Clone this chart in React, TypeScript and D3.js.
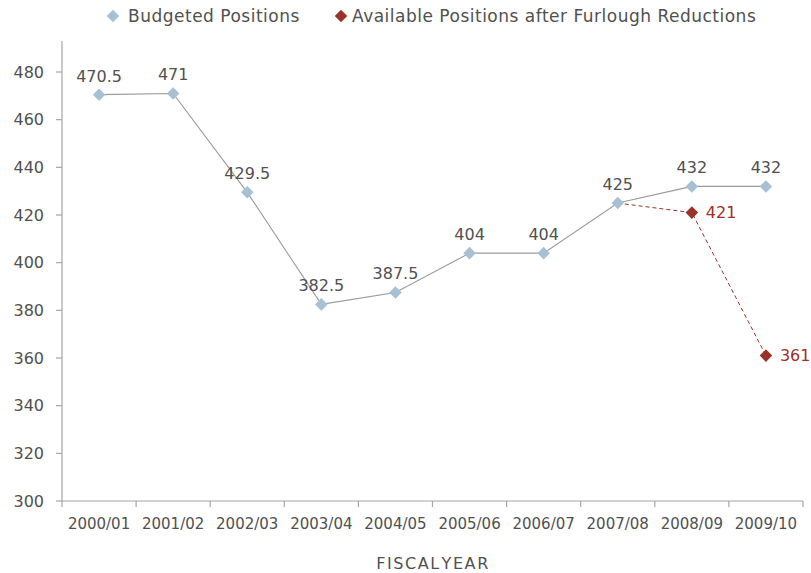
import React from "react";
import * as d3 from "d3";

const categories = ["2000/01","2001/02","2002/03","2003/04","2004/05","2005/06","2006/07","2007/08","2008/09","2009/10"];
const budgeted = [470.5, 471, 429.5, 382.5, 387.5, 404, 404, 425, 432, 432];
const available: (number | null)[] = [null, null, null, null, null, null, null, 425, 421, 361];
const availableMarkers = [false, false, false, false, false, false, false, false, true, true];
const yTicks = [300, 320, 340, 360, 380, 400, 420, 440, 460, 480];
const seriesNames = ["Budgeted Positions", "Available Positions after Furlough Reductions"];
const xTitle = "FISCAL YEAR";

const W = 811, H = 573;
const left = 62, right = 803, plotTop = 41, bottom = 501;
const blue = "#A8C0D3";
const red = "#993228";
const textCol = "#505050";
const axisCol = "#a6a6a6";
const font = "'DejaVu Sans', sans-serif";

export default function App() {
  const x = d3.scaleBand<string>().domain(categories).range([left, right]).padding(0);
  const y = d3.scaleLinear().domain([300, 480]).range([bottom, 72]);
  const cx = (c: string) => (x(c) as number) + x.bandwidth() / 2;
  const diamond = d3.symbol().type(d3.symbolDiamond2).size(100)();
  const line = d3.line<number>().x((_, i) => cx(categories[i])).y((d) => y(d));
  const lineAvail = d3
    .line<number | null>()
    .defined((d) => d != null)
    .x((_, i) => cx(categories[i]))
    .y((d) => y(d as number));

  return (
    <svg width={W} height={H} style={{ position: "absolute", left: 0, top: 0, background: "#fff" }} fontFamily={font}>
      {/* legend */}
      <g>
        <path d={diamond as string} transform={`translate(113,16)`} fill={blue} />
        <text x={128} y={22} fontSize={17} letterSpacing={0.5} fill={textCol}>{seriesNames[0]}</text>
        <path d={diamond as string} transform={`translate(341,16)`} fill={red} />
        <text x={352} y={22} fontSize={17} letterSpacing={0.5} fill={textCol}>{seriesNames[1]}</text>
      </g>
      {/* y axis */}
      <line x1={left} x2={left} y1={plotTop} y2={bottom} stroke={axisCol} strokeWidth={1.2} />
      {yTicks.map((t) => (
        <g key={t}>
          <line x1={left - 6} x2={left} y1={y(t)} y2={y(t)} stroke={axisCol} strokeWidth={1.2} />
          <text x={44} y={y(t)} dy="0.36em" textAnchor="end" fontSize={16} fill={textCol}>{t}</text>
        </g>
      ))}
      {/* x axis */}
      <line x1={left} x2={right} y1={bottom} y2={bottom} stroke={axisCol} strokeWidth={1.2} />
      {[...categories.map((c) => x(c) as number), right].map((v, i) => (
        <line key={i} x1={v} x2={v} y1={bottom} y2={bottom + 6} stroke={axisCol} strokeWidth={1.2} />
      ))}
      {categories.map((c) => (
        <text key={c} x={cx(c)} y={529} textAnchor="middle" fontSize={15} fill={textCol}>{c}</text>
      ))}
      <text x={433} y={569} textAnchor="middle" fontSize={16} letterSpacing={1.6} fill={textCol} wordSpacing={-6}>{xTitle}</text>
      {/* available series */}
      <path d={lineAvail(available) as string} fill="none" stroke={red} strokeWidth={1} strokeDasharray="4,3" />
      {available.map((v, i) =>
        v != null && availableMarkers[i] ? (
          <g key={i}>
            <path d={diamond as string} transform={`translate(${cx(categories[i])},${y(v)})`} fill={red} />
            <text x={cx(categories[i]) + 14} y={y(v)} dy="0.36em" fontSize={16} fill={red}>{v}</text>
          </g>
        ) : null
      )}
      {/* budgeted series */}
      <path d={line(budgeted) as string} fill="none" stroke="#9a9a9a" strokeWidth={1.1} />
      {budgeted.map((v, i) => (
        <g key={i}>
          <path d={diamond as string} transform={`translate(${cx(categories[i])},${y(v)})`} fill={blue} />
          <text x={cx(categories[i])} y={y(v) - 13} textAnchor="middle" fontSize={16} fill={textCol}>{v}</text>
        </g>
      ))}
    </svg>
  );
}
